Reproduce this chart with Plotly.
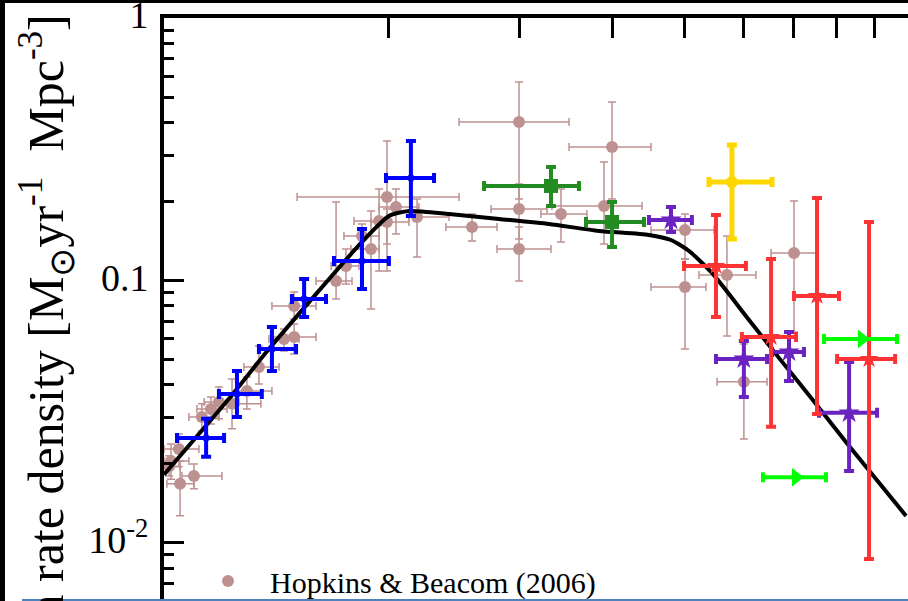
import plotly.graph_objects as go

# ---------------- data (redshift z, SFR density in Msun/yr/Mpc^3) ----------------
# Hopkins & Beacom (2006) compilation
hb_z      = [0.051, 0.097, 0.022, 0.047, 0.124, 0.156, 0.185, 0.234, 0.292, 0.341, 0.449, 0.495,
             0.495, 0.702, 0.755, 0.896, 0.844, 0.944, 0.992, 1.048, 0.992, 1.186, 1.591, 1.996,
             1.996, 1.996, 2.411, 2.994, 2.896, 4.004, 4.004, 4.697, 6.009, 5.003, 0.016]
hb_z_lo   = [0.009, 0.057, 0.000, 0.000, 0.080, 0.107, 0.132, 0.185, 0.249, 0.280, 0.383, 0.396,
             0.396, 0.600, 0.676, 0.782, 0.744, 0.799, 0.509, 0.944, 0.896, 1.132, 1.390, 1.489,
             1.748, 1.799, 2.206, 2.497, 2.317, 3.505, 3.505, 4.225, 5.529, 4.525, 0.000]
hb_z_hi   = [0.097, 0.196, 0.080, 0.114, 0.185, 0.215, 0.261, 0.349, 0.396, 0.427, 0.518, 0.600,
             0.600, 0.788, 0.827, 0.944, 0.944, 1.004, 1.489, 1.199, 1.132, 1.413, 1.799, 2.497,
             2.267, 2.307, 2.696, 3.505, 3.382, 4.474, 4.339, 5.231, 6.503, 5.448, 0.050]
hb_sfr    = [0.0168, 0.0180, 0.0205, 0.0228, 0.0302, 0.0324, 0.0344, 0.0339, 0.0379, 0.0468, 0.0598, 0.0609,
             0.0799, 0.0996, 0.1136, 0.1318, 0.1477, 0.1685, 0.2080, 0.1905, 0.1671, 0.1746, 0.1598, 0.4016,
             0.1872, 0.1318, 0.1792, 0.3226, 0.1922, 0.1557, 0.0945, 0.1050, 0.1273, 0.0411, 0.0196]
hb_sfr_lo = [0.0127, 0.0161, 0.0175, 0.0195, 0.0267, 0.0284, 0.0297, 0.0272, 0.0324, 0.0403, 0.0539, 0.0525,
             0.0713, 0.0850, 0.0970, 0.0779, 0.1318, 0.1087, 0.1087, 0.1504, 0.1377, 0.1229, 0.1414, 0.2044,
             0.1439, 0.0996, 0.1402, 0.2044, 0.1377, 0.1208, 0.0548, 0.0614, 0.0636, 0.0249, 0.0180]
hb_sfr_hi = [0.0205, 0.0200, 0.0238, 0.0260, 0.0339, 0.0360, 0.0393, 0.0421, 0.0429, 0.0563, 0.0653, 0.0683,
             0.0904, 0.1991, 0.1318, 0.1840, 0.1641, 0.2232, 0.3400, 0.2232, 0.1872, 0.2044, 0.1792, 0.5700,
             0.2331, 0.1598, 0.2232, 0.4786, 0.2828, 0.1792, 0.1208, 0.1477, 0.2008, 0.0573, 0.0215]

# blue crosses
blue_z      = [0.139, 0.253, 0.396, 0.542, 0.844, 1.145]
blue_z_lo   = [0.041, 0.185, 0.341, 0.485, 0.691, 0.986]
blue_z_hi   = [0.204, 0.353, 0.504, 0.650, 1.004, 1.304]
blue_sfr    = [0.0251, 0.0369, 0.0548, 0.0850, 0.1187, 0.2457]
blue_sfr_lo = [0.0213, 0.0302, 0.0452, 0.0726, 0.0928, 0.1761]
blue_sfr_hi = [0.0297, 0.0452, 0.0665, 0.1013, 0.1571, 0.3400]

# green squares
green_z      = [2.307, 2.994]
green_z_lo   = [1.689, 2.685]
green_z_hi   = [2.606, 3.409]
green_sfr    = [0.2291, 0.1671]
green_sfr_lo = [0.1922, 0.1341]
green_sfr_hi = [0.2706, 0.1991]

# purple stars
purple_z      = [3.792, 5.003, 5.902, 7.310]
purple_z_lo   = [3.477, 4.507, 5.549, 6.573]
purple_z_hi   = [4.112, 5.448, 6.228, 8.060]
purple_sfr    = [0.1700, 0.0502, 0.0534, 0.0313]
purple_sfr_lo = [0.1530, 0.0360, 0.0414, 0.0188]
purple_sfr_hi = [0.1905, 0.0588, 0.0636, 0.0489]

# yellow point
yellow_z      = [4.785]
yellow_z_lo   = [4.389]
yellow_z_hi   = [5.549]
yellow_sfr    = [0.2372]
yellow_sfr_lo = [0.1439]
yellow_sfr_hi = [0.3280]

# red points
red_z      = [4.507, 5.529, 6.525, 7.838]
red_z_lo   = [3.989, 4.966, 6.009, 7.007]
red_z_hi   = [5.041, 6.052, 7.054, 8.580]
red_sfr    = [0.1136, 0.0609, 0.0873, 0.0502]
red_sfr_lo = [0.0726, 0.0277, 0.0310, 0.00869]
red_sfr_hi = [0.1776, 0.1208, 0.2062, 0.1671]

# light-green triangles
lime_z    = [7.648, 6.052]
lime_z_lo = [6.690, 5.368]
lime_z_hi = [8.635, 6.737]
lime_sfr  = [0.0598, 0.0178]

# black fit curve
curve_z   = [0.0, 0.222, 0.383, 0.844, 1.004, 1.132, 1.413, 1.817, 2.287, 2.836, 3.477, 3.792,
             4.067, 4.439, 5.099, 5.69, 6.41, 7.31, 8.91]
curve_sfr = [0.0182, 0.0354, 0.0548, 0.1402, 0.1761, 0.1840, 0.1792, 0.1715, 0.1641, 0.1544, 0.1491, 0.1426,
             0.1295, 0.1068, 0.0707, 0.0507, 0.03537, 0.0234, 0.01267]

y_tickvals = [0.01, 0.1, 1]
y_ticktext = ["10<sup>-2</sup>", "0.1", "1"]
y_minor = [0.007, 0.008, 0.009, 0.02, 0.03, 0.04, 0.05, 0.06, 0.07, 0.08, 0.09,
           0.2, 0.3, 0.4, 0.5, 0.6, 0.7, 0.8, 0.9]
x_tickvals_z = [1, 2, 3, 4, 5, 6, 7, 8]

FONT = "Liberation Serif, Times New Roman, serif"
NB = "\u00a0"


def opz(zs):
    return [1 + z for z in zs]


def errs(v, lo, hi):
    return dict(type="data", symmetric=False,
                array=[h - c for c, h in zip(v, hi)],
                arrayminus=[c - l for c, l in zip(v, lo)])


def series(z, zlo, zhi, s, slo, shi, color, symbol, size, thick, cap, name=None, legend=False):
    ex = errs(z, zlo, zhi)
    ey = errs(s, slo, shi)
    ex.update(color=color, thickness=thick, width=cap)
    ey.update(color=color, thickness=thick, width=cap)
    return go.Scatter(x=opz(z), y=s, mode="markers", name=name, showlegend=legend,
                      marker=dict(color=color, symbol=symbol, size=size, line=dict(width=0)),
                      error_x=ex, error_y=ey, hoverinfo="skip")


fig = go.Figure()

PINK = "rgb(190,145,145)"
fig.add_trace(series(hb_z, hb_z_lo, hb_z_hi, hb_sfr, hb_sfr_lo, hb_sfr_hi,
                     PINK, "circle", 12, 1.5, 4, name="Hopkins &amp; Beacom (2006)", legend=True))

fig.add_trace(go.Scatter(x=opz(curve_z), y=curve_sfr, mode="lines", showlegend=False,
                         line=dict(color="black", width=4, shape="spline", smoothing=0.6),
                         hoverinfo="skip"))

fig.add_trace(series(blue_z, blue_z_lo, blue_z_hi, blue_sfr, blue_sfr_lo, blue_sfr_hi,
                     "#0000ff", "diamond", 8, 4, 5))
fig.add_trace(series(green_z, green_z_lo, green_z_hi, green_sfr, green_sfr_lo, green_sfr_hi,
                     "#228b22", "square", 14, 4, 5))
fig.add_trace(series(purple_z, purple_z_lo, purple_z_hi, purple_sfr, purple_sfr_lo, purple_sfr_hi,
                     "#6a22c0", "star", 16, 4, 5))
fig.add_trace(series(yellow_z, yellow_z_lo, yellow_z_hi, yellow_sfr, yellow_sfr_lo, yellow_sfr_hi,
                     "#ffd700", "circle", 12, 5, 5))
fig.add_trace(series(red_z, red_z_lo, red_z_hi, red_sfr, red_sfr_lo, red_sfr_hi,
                     "#ff3333", "star", 14, 4, 5))

lime_ex = errs(lime_z, lime_z_lo, lime_z_hi)
lime_ex.update(color="#00ff00", thickness=4, width=5)
fig.add_trace(go.Scatter(x=opz(lime_z), y=lime_sfr, mode="markers", showlegend=False,
                         marker=dict(color="#00ff00", symbol="triangle-right", size=16, line=dict(width=0)),
                         error_x=lime_ex, hoverinfo="skip"))

axis_common = dict(type="log", showgrid=False, zeroline=False, ticks="inside",
                   tickcolor="black", tickwidth=3, ticklen=20)

fig.update_layout(
    width=908, height=601,
    margin=dict(l=164, r=0, t=18, b=0, autoexpand=False),
    paper_bgcolor="white", plot_bgcolor="white",
    font=dict(family=FONT, color="black"),
    xaxis=dict(axis_common, range=[0, 0.99866], side="top", showline=True, linecolor="black",
               linewidth=4, tickvals=opz(x_tickvals_z), showticklabels=False, automargin=False),
    yaxis=dict(axis_common, range=[-2.2213, 0], showline=True, linecolor="black", linewidth=4,
               tickvals=y_tickvals, ticktext=y_ticktext, tickfont=dict(family=FONT, size=38),
               ticklabelstandoff=4, ticklabelshift=-3, ticklabeloverflow="allow", automargin=False,
               minor=dict(tickvals=y_minor, ticks="inside", ticklen=10, tickwidth=3, tickcolor="black")),
    yaxis2=dict(axis_common, range=[-2.2213, 0], overlaying="y", side="right", anchor="x",
                showline=False, tickvals=y_tickvals, showticklabels=False, automargin=False,
                minor=dict(tickvals=y_minor, ticks="inside", ticklen=10, tickwidth=3, tickcolor="black")),
    legend=dict(x=0.0296, y=0.0789, xanchor="left", yanchor="top", bgcolor="rgba(0,0,0,0)",
                font=dict(family=FONT, size=30, color="black"), itemwidth=74),
    showlegend=True,
)

fig.add_annotation(
    text="Star birth rate density [M<sub>⊙</sub>yr<sup>-1</sup>" + NB + NB + "Mpc<sup>-3</sup>]",
    textangle=-90, xref="paper", yref="paper", x=(46 - 164) / 744, y=(601 - 12) / 583,
    xanchor="center", yanchor="top", showarrow=False,
    font=dict(family=FONT, size=50, color="black"),
)

# slide frame pieces around the cropped figure
fig.add_shape(type="rect", xref="paper", yref="paper", x0=-0.3, x1=(5 - 164) / 744, y0=-0.1, y1=1.2,
              fillcolor="black", line=dict(width=0))
fig.add_shape(type="rect", xref="paper", yref="paper", x0=-0.3, x1=1.1, y0=(601 - 3) / 583, y1=1.2,
              fillcolor="black", line=dict(width=0))
fig.add_shape(type="line", xref="paper", yref="paper", x0=(22 - 164) / 744, x1=1.1,
              y0=(601 - 600) / 583, y1=(601 - 600) / 583, line=dict(color="#4f81bd", width=2))

fig.write_html("out.html")
